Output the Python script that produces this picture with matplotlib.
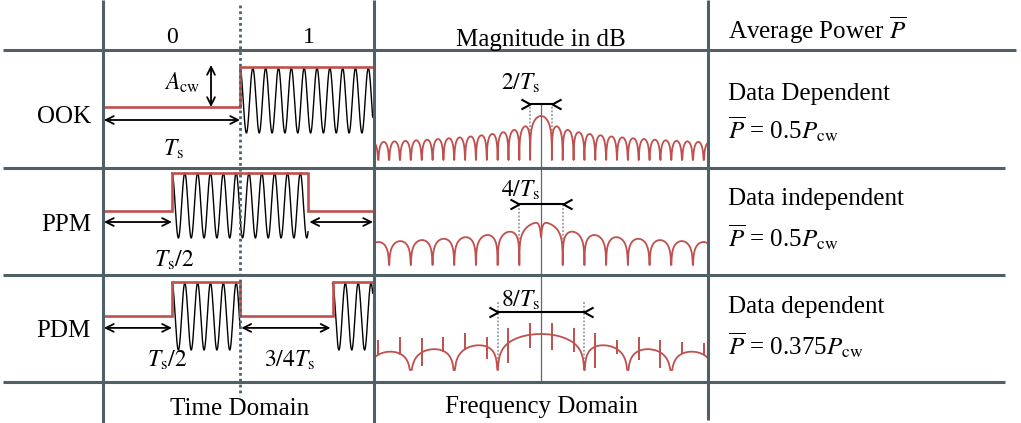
import numpy as np
import matplotlib
matplotlib.use('Agg')
import matplotlib.pyplot as plt
from matplotlib.path import Path

W, H = 1021, 423
plt.rcParams['font.family'] = ['Liberation Serif', 'DejaVu Serif']
plt.rcParams['mathtext.fontset'] = 'stix'

# ---------------- data ----------------
schemes = ['OOK', 'PPM', 'PDM']
bit_labels = ['0', '1']
power_kind = ['Data Dependent', 'Data independent', 'Data dependent']
power_value = ['0.5', '0.5', '0.375']
col_titles = ['Magnitude in dB', r'Average Power $\overline{P}$']
foot_titles = ['Time Domain', 'Frequency Domain']

# pulse intervals in units of Ts (bit "0" spans [-1, 0], bit "1" spans [0, 1])
ook_pulses = [(0.0, 1.0)]
ppm_pulses = [(-0.5, 0.5)]
pdm_pulses = [(-0.5, 0.0), (0.68, 1.0)]
carrier_cycles_per_Ts = 10.6

# main-lobe widths (units of 1/Ts) and labels
lobe_width = [2, 4, 8]
lobe_labels = [r'$2/T_{\mathrm{s}}$', r'$4/T_{\mathrm{s}}$', r'$8/T_{\mathrm{s}}$']
# pulse duration (units Ts) that shapes each spectrum
pulse_len = [1.0, 0.5, 0.25]
spec_floor_db = [-56.4, -59.0, -42.4]
# PDM discrete spectral lines (f in 1/Ts, extents in dB)
pdm_line_f = [-15, -13, -11, -9, -7, -5, -3, -1, 1, 3, 5, 7, 9, 11, 13, 15]
pdm_line_top = [-7, -3, -5, -3, 1, -3, 7, 12.5, 12.5, 7, 1, -7, -3, -7, -9, -11]
pdm_line_bot = [-25, -25, -38, -21, -19, -29, -34, -17, -19, -21, -40, -23, -31, -40, -23, -25]

RED = '#c0504d'
GRID = '#4f6166'

fig = plt.figure(figsize=(W / 100, H / 100), dpi=100)
fig.patch.set_facecolor('white')


def px_axes(x0, y0, x1, y1):
    ax = fig.add_axes([x0 / W, 1 - y1 / H, (x1 - x0) / W, (y1 - y0) / H])
    ax.set_facecolor('none')
    ax.axis('off')
    return ax


# ---------------- time domain ----------------
t_lim = (-1.007, 0.985)
time_rows = [
    dict(p=ook_pulses, band=(50, 168), low=107, high=67, c=0.1625, a=0.8125, ay=-0.325),
    dict(p=ppm_pulses, band=(168, 275), low=211, high=173, c=0.145, a=0.855, ay=-0.29),
    dict(p=pdm_pulses, band=(275, 382), low=316, high=282, c=-0.015, a=0.985, ay=-0.35),
]

arrow_kw = dict(arrowstyle='<->', lw=1.3, color='black', mutation_scale=14,
                shrinkA=0, shrinkB=0)

time_axes = []
for r in time_rows:
    top, bot = r['band']
    ax = px_axes(103, top, 374, bot)
    unit = r['low'] - r['high']
    ax.set_xlim(*t_lim)
    ax.set_ylim((r['low'] - bot) / unit, (r['low'] - top) / unit)
    # envelope
    xs, ys = [t_lim[0]], [0]
    for a, b in r['p']:
        xs += [a, a]
        ys += [0, 1]
        if b < t_lim[1]:
            xs += [b, b]
            ys += [1, 0]
        else:
            xs += [t_lim[1]]
            ys += [1]
    if ys[-1] == 0:
        xs.append(t_lim[1])
        ys.append(0)
    # carrier
    for a, b in r['p']:
        tt = np.linspace(a, min(b, t_lim[1] - 0.01), 800)
        ax.plot(tt, r['c'] + r['a'] * np.cos(2 * np.pi * carrier_cycles_per_Ts * (tt - a)),
                color='black', lw=1.0, zorder=2)
    ax.plot(xs, ys, color=RED, lw=1.9, solid_joinstyle='miter', zorder=3)
    time_axes.append(ax)

# OOK annotations
ax = time_axes[0]
y = time_rows[0]['ay']
ax.annotate('', xy=(0.0, y), xytext=(-1.0, y), arrowprops=arrow_kw)
ax.annotate('', xy=(-0.213, 1.05), xytext=(-0.213, 0.0), arrowprops=arrow_kw)
# PPM annotations
ax = time_axes[1]
y = time_rows[1]['ay']
ax.annotate('', xy=(-0.5, y), xytext=(-1.0, y), arrowprops=arrow_kw)
ax.annotate('', xy=(0.978, y), xytext=(0.51, y), arrowprops=arrow_kw)
# PDM annotations
ax = time_axes[2]
y = time_rows[2]['ay']
ax.annotate('', xy=(-0.5, y), xytext=(-1.0, y), arrowprops=arrow_kw)
ax.annotate('', xy=(0.665, y), xytext=(0.01, y), arrowprops=arrow_kw)

# ---------------- frequency domain ----------------
f_lim = (-15.30, 15.39)
freq_rows = [
    dict(band=(50, 168), peak=116, k=0.78, dim_y=15.4, dot_top=16.0, c0=14.1),
    dict(band=(168, 275), peak=222, k=0.73, dim_y=24.7, dot_top=24.7, c0=None),
    dict(band=(275, 382), peak=334, k=0.85, dim_y=25.9, dot_top=38.8, c0=None),
]

left_chev = Path([(-1, 0.55), (0, 0), (-1, -0.55)], [Path.MOVETO, Path.LINETO, Path.LINETO])
right_chev = Path([(1, 0.55), (0, 0), (1, -0.55)], [Path.MOVETO, Path.LINETO, Path.LINETO])

for i, r in enumerate(freq_rows):
    top, bot = r['band']
    ax = px_axes(375, top, 708, bot)
    ax.set_xlim(*f_lim)
    ybot = (r['peak'] - bot) / r['k']
    ax.set_ylim(ybot, (r['peak'] - top) / r['k'])
    tp = pulse_len[i]
    nulls = np.arange(-40, 41) / tp
    f = np.union1d(np.linspace(f_lim[0], f_lim[1], 8000), nulls[(nulls > f_lim[0]) & (nulls < f_lim[1])])
    S = np.sinc(f * tp) ** 2
    if i == 1:
        S = S * (1 - 0.992 * np.exp(-(f / 0.28) ** 2))
    db = np.maximum(10 * np.log10(np.maximum(S, 1e-30)), spec_floor_db[i])
    # centre axis
    ax.plot([0, 0], [r['c0'] if r['c0'] is not None else 200, ybot], color='#666666', lw=0.9, zorder=1)
    ax.plot(f, db, color=RED, lw=1.3, zorder=3)
    if i == 2:
        ax.vlines(pdm_line_f, pdm_line_bot, pdm_line_top, color=RED, lw=1.4, zorder=3)
    hw = lobe_width[i] / 2
    ax.vlines([-hw, hw], spec_floor_db[i], r['dot_top'], color='#8a8a8a', lw=1.1,
              linestyles=(0, (1.2, 1.2)), zorder=2)
    ax.plot([-hw, hw], [r['dim_y']] * 2, color='black', lw=1.5, zorder=4)
    ax.plot([-hw], [r['dim_y']], marker=left_chev, ms=13, mew=1.5, mfc='none', mec='black', zorder=4)
    ax.plot([hw], [r['dim_y']], marker=right_chev, ms=13, mew=1.5, mfc='none', mec='black', zorder=4)

# ---------------- table & texts (pixel overlay) ----------------
ov = px_axes(0, 0, W, H)
ov.set_xlim(0, W)
ov.set_ylim(H, 0)
lw_tab = 2.2
ov.plot([3, 1016], [50, 50], color=GRID, lw=lw_tab, solid_capstyle='butt')
for yy in (168, 275, 382):
    ov.plot([3, 1005], [yy, yy], color=GRID, lw=lw_tab, solid_capstyle='butt')
for xx, y1 in ((103, 423), (374, 423), (708, 420)):
    ov.plot([xx, xx], [0, y1], color=GRID, lw=lw_tab, solid_capstyle='butt')
ov.plot([240, 240], [5, 396], color=GRID, lw=2.0, linestyle=(0, (1, 1.1)))

FS = 18
ov.text(172, 43, bit_labels[0], fontsize=17, ha='center', va='baseline')
ov.text(309, 43, bit_labels[1], fontsize=17, ha='center', va='baseline')
ov.text(541, 46, col_titles[0], fontsize=FS, ha='center', va='baseline')
ov.text(728, 39, col_titles[1], fontsize=FS, ha='left', va='baseline')

for name, yb in zip(schemes, (123, 231, 337)):
    ov.text(91, yb, name, fontsize=FS, ha='right', va='baseline')

for kind, val, yk, yv in zip(power_kind, power_value, (100, 205, 313), (139, 247, 355)):
    ov.text(728, yk, kind, fontsize=FS, ha='left', va='baseline')
    ov.text(728, yv, r'$\overline{P}$ = ' + val + r'$P_{\mathrm{cw}}$', fontsize=FS,
            ha='left', va='baseline')

ov.text(200, 90, r'$A_{\mathrm{cw}}$', fontsize=17, ha='right', va='baseline')
ov.text(173, 156, r'$T_{\mathrm{s}}$', fontsize=17, ha='center', va='baseline')
ov.text(174, 267, r'$T_{\mathrm{s}}/2$', fontsize=17, ha='center', va='baseline')
ov.text(167, 367, r'$T_{\mathrm{s}}/2$', fontsize=17, ha='center', va='baseline')
ov.text(290, 367, r'$3/4T_{\mathrm{s}}$', fontsize=17, ha='center', va='baseline')

for lab, yb in zip(lobe_labels, (90, 197, 307)):
    ov.text(521, yb, lab, fontsize=17, ha='center', va='baseline')

ov.text(240, 415, foot_titles[0], fontsize=FS, ha='center', va='baseline')
ov.text(541, 413, foot_titles[1], fontsize=FS, ha='center', va='baseline')

fig.savefig('out.png', dpi=100, facecolor='white')
